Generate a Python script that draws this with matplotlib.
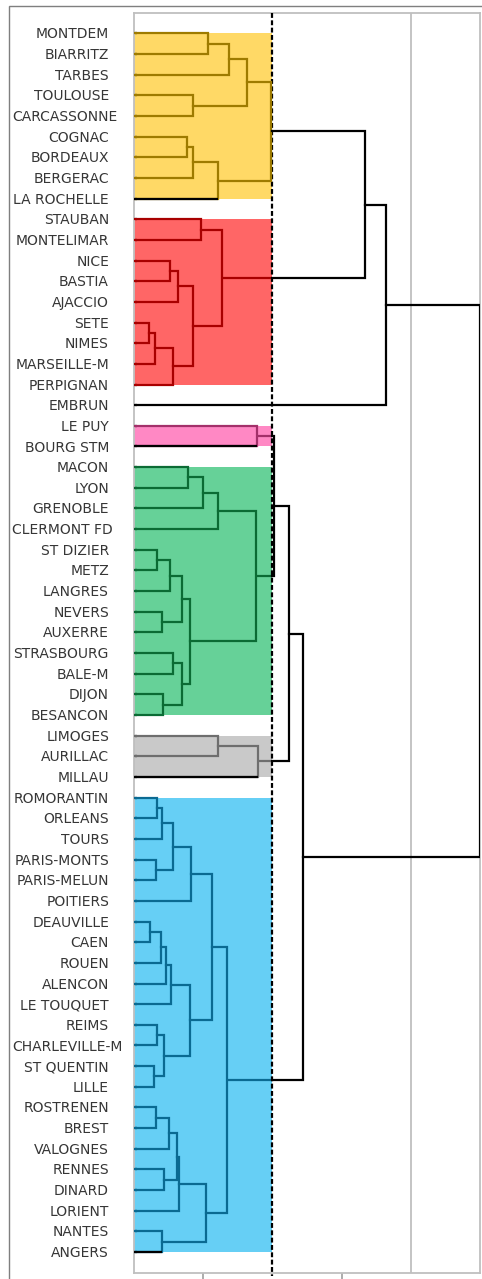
import matplotlib
matplotlib.use("Agg")
import matplotlib.pyplot as plt
from matplotlib.patches import Rectangle
from matplotlib.transforms import blended_transform_factory

# ---------------- data ----------------
leaves = [
    "MONTDEM", "BIARRITZ", "TARBES", "TOULOUSE", "CARCASSONNE", "COGNAC",
    "BORDEAUX", "BERGERAC", "LA ROCHELLE", "STAUBAN", "MONTELIMAR", "NICE",
    "BASTIA", "AJACCIO", "SETE", "NIMES", "MARSEILLE-M", "PERPIGNAN", "EMBRUN",
    "LE PUY", "BOURG STM", "MACON", "LYON", "GRENOBLE", "CLERMONT FD",
    "ST DIZIER", "METZ", "LANGRES", "NEVERS", "AUXERRE", "STRASBOURG", "BALE-M",
    "DIJON", "BESANCON", "LIMOGES", "AURILLAC", "MILLAU", "ROMORANTIN",
    "ORLEANS", "TOURS", "PARIS-MONTS", "PARIS-MELUN", "POITIERS", "DEAUVILLE",
    "CAEN", "ROUEN", "ALENCON", "LE TOUQUET", "REIMS", "CHARLEVILLE-M",
    "ST QUENTIN", "LILLE", "ROSTRENEN", "BREST", "VALOGNES", "RENNES", "DINARD",
    "LORIENT", "NANTES", "ANGERS",
]

# merges: (left child, right child, height); str = leaf, int = earlier merge
links = [
    ("MONTDEM", "BIARRITZ", 1.074),        # 0
    (0, "TARBES", 1.377),                  # 1
    ("TOULOUSE", "CARCASSONNE", 0.853),    # 2
    (1, 2, 1.629),                         # 3
    ("COGNAC", "BORDEAUX", 0.762),         # 4
    (4, "BERGERAC", 0.848),                # 5
    (5, "LA ROCHELLE", 1.218),             # 6
    (3, 6, 1.98),                          # 7
    ("STAUBAN", "MONTELIMAR", 0.968),      # 8
    ("NICE", "BASTIA", 0.516),             # 9
    (9, "AJACCIO", 0.632),                 # 10
    ("SETE", "NIMES", 0.212),              # 11
    (11, "MARSEILLE-M", 0.299),            # 12
    (12, "PERPIGNAN", 0.564),              # 13
    (10, 13, 0.848),                       # 14
    (8, 14, 1.267),                        # 15
    (7, 15, 3.338),                        # 16
    (16, "EMBRUN", 3.637),                 # 17
    ("LE PUY", "BOURG STM", 1.782),        # 18
    ("MACON", "LYON", 0.776),              # 19
    (19, "GRENOBLE", 1.001),               # 20
    (20, "CLERMONT FD", 1.21),             # 21
    ("ST DIZIER", "METZ", 0.332),          # 22
    (22, "LANGRES", 0.516),                # 23
    ("NEVERS", "AUXERRE", 0.409),          # 24
    (23, 24, 0.689),                       # 25
    ("STRASBOURG", "BALE-M", 0.564),       # 26
    ("DIJON", "BESANCON", 0.423),          # 27
    (26, 27, 0.689),                       # 28
    (25, 28, 0.809),                       # 29
    (21, 29, 1.759),                       # 30
    (18, 30, 2.023),                       # 31
    ("LIMOGES", "AURILLAC", 1.21),         # 32
    (32, "MILLAU", 1.788),                 # 33
    (31, 33, 2.24),                        # 34
    ("ROMORANTIN", "ORLEANS", 0.332),      # 35
    (35, "TOURS", 0.409),                  # 36
    ("PARIS-MONTS", "PARIS-MELUN", 0.318), # 37
    (36, 37, 0.568),                       # 38
    (38, "POITIERS", 0.824),               # 39
    ("DEAUVILLE", "CAEN", 0.236),          # 40
    (40, "ROUEN", 0.39),                   # 41
    (41, "ALENCON", 0.458),                # 42
    (42, "LE TOUQUET", 0.53),              # 43
    ("REIMS", "CHARLEVILLE-M", 0.332),     # 44
    ("ST QUENTIN", "LILLE", 0.285),        # 45
    (44, 45, 0.434),                       # 46
    (43, 46, 0.809),                       # 47
    (39, 47, 1.123),                       # 48
    ("ROSTRENEN", "BREST", 0.318),         # 49
    (49, "VALOGNES", 0.509),               # 50
    ("RENNES", "DINARD", 0.438),           # 51
    (50, 51, 0.617),                       # 52
    (52, "LORIENT", 0.65),                 # 53
    ("NANTES", "ANGERS", 0.409),           # 54
    (53, 54, 1.036),                       # 55
    (48, 55, 1.34),                        # 56
    (34, 56, 2.447),                       # 57
    (17, 57, 5.0),                         # 58
]

cut_height = 2.0
cluster_first = ["MONTDEM", "STAUBAN", "LE PUY", "MACON", "LIMOGES", "ROMORANTIN"]
cluster_last = ["LA ROCHELLE", "PERPIGNAN", "BOURG STM", "BESANCON", "MILLAU", "ANGERS"]
cluster_fill = ["#FFD966", "#FF6666", "#FF88C4", "#66D198", "#C9C9C9", "#66CFF5"]
cluster_line = ["#9E7B00", "#A80000", "#A3306A", "#0B6B34", "#6E6E6E", "#0A6A92"]
black_leaf_lines = ["LA ROCHELLE", "BOURG STM", "MILLAU", "ANGERS"]
minor_ticks_x = [1, 3]
grid_x = [4]
x_max = 5.0

# ---------------- figure ----------------
W, H = 482, 1279
fig = plt.figure(figsize=(W / 100, H / 100), dpi=100)
ax_left, ax_right, ax_top, ax_bottom = 134, 480, 12.7, 1272.7
ax = fig.add_axes([ax_left / W, 1 - ax_bottom / H,
                   (ax_right - ax_left) / W, (ax_bottom - ax_top) / H])

n = len(leaves)
pos = {name: i + 1 for i, name in enumerate(leaves)}


def leaf_cluster(idx):
    for c, (f, l) in enumerate(zip(cluster_first, cluster_last)):
        if pos[f] <= idx <= pos[l]:
            return c
    return None


node_y, node_h, node_cl = [], [], []
leaf_parent_h = {}
for a, b, h in links:
    ys = []
    cls = []
    for ch in (a, b):
        if isinstance(ch, str):
            ys.append(pos[ch])
            cls.append(leaf_cluster(pos[ch]))
            leaf_parent_h[ch] = h
        else:
            ys.append(node_y[ch])
            cls.append(node_cl[ch])
    node_y.append(sum(ys) / 2)
    node_h.append(h)
    node_cl.append(cls[0] if (h < cut_height and cls[0] == cls[1]) else None)

# colored cluster boxes
for c in range(len(cluster_first)):
    y0, y1 = pos[cluster_first[c]], pos[cluster_last[c]]
    ax.barh((y0 + y1) / 2, cut_height, height=(y1 - y0), left=0,
            color=cluster_fill[c], edgecolor="none", zorder=1)

lw = 1.6
for k, (a, b, h) in enumerate(links):
    pts = []
    for ch in (a, b):
        if isinstance(ch, str):
            pts.append((0.0, pos[ch], leaf_cluster(pos[ch]), True))
        else:
            pts.append((node_h[ch], node_y[ch], node_cl[ch], False))
    (ha, ya, ca, _), (hb, yb, cb, _) = pts
    if h < cut_height:
        col = cluster_line[node_cl[k]]
        ax.plot([ha, h, h, hb], [ya, ya, yb, yb], color=col, lw=lw,
                solid_joinstyle="miter", zorder=4)
    else:
        starts = []
        for (hc, yc, cc, is_leaf) in pts:
            if cc is not None and not is_leaf:
                ax.plot([hc, cut_height], [yc, yc], color=cluster_line[cc],
                        lw=lw, zorder=4, solid_capstyle="butt")
                starts.append(cut_height)
            else:
                starts.append(hc)
        ax.plot([starts[0], h, h, starts[1]], [ya, ya, yb, yb], color="black",
                lw=lw, solid_joinstyle="miter", zorder=4)

for name in black_leaf_lines:
    ax.plot([0, leaf_parent_h[name]], [pos[name], pos[name]], color="black",
            lw=lw, zorder=4.5, solid_capstyle="butt")

# cut line
ax.plot([cut_height, cut_height], [0, n + 1.15], color="black", lw=1.6,
        linestyle=(0, (2.2, 1.1)), zorder=3.5, clip_on=False)
for gx in grid_x:
    ax.axvline(gx, color="#BFBFBF", lw=1.3, zorder=0.5)

ax.set_xlim(0, x_max)
ax.set_ylim(n + 1, 0)
ax.set_xticks(minor_ticks_x)
ax.set_xticklabels([])
ax.tick_params(axis="x", direction="out", length=4.3, width=1.3, color="#A6A6A6")
ax.set_yticks([pos[l] for l in leaves])
ax.set_yticklabels([])
ax.tick_params(axis="y", direction="in", length=2.2, width=1.6, color="black")
for s in ax.spines.values():
    s.set_color("#BFBFBF")
    s.set_linewidth(1.3)

# labels
trans = blended_transform_factory(fig.transFigure, ax.transData)
texts = []
for name in leaves:
    t = ax.text(109 / W, pos[name] + 0.05, name, transform=trans, ha="right",
                va="center", fontsize=10, color="#363636",
                family="DejaVu Sans")
    texts.append(t)
fig.canvas.draw()
r = fig.canvas.get_renderer()
for t in texts:
    bb = t.get_window_extent(renderer=r)
    if bb.x0 < 12:
        t.set_ha("left")
        t.set_x(12 / W)

# outer chart border
fig.patches.append(Rectangle((9 / W, -0.5), 2, 1.5 - 5.5 / H,
                             transform=fig.transFigure, fill=False,
                             edgecolor="#7F7F7F", lw=1.0))

fig.savefig("out.png", dpi=100)
